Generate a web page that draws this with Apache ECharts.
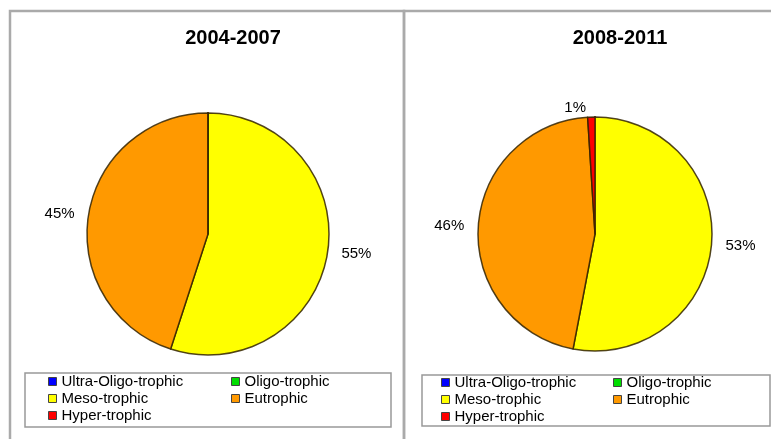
<!DOCTYPE html>
<html>
<head>
<meta charset="utf-8">
<script src="https://cdn.jsdelivr.net/npm/echarts@6/dist/echarts.min.js"></script>
<style>
html,body{margin:0;padding:0;background:#fff;}
#chart{width:771px;height:439px;}
</style>
</head>
<body>
<div id="chart"></div>
<script>
// Data
const categories = ['Ultra-Oligo-trophic', 'Oligo-trophic', 'Meso-trophic', 'Eutrophic', 'Hyper-trophic'];
const titles = ['2004-2007', '2008-2011'];
const values2004_2007 = [0, 0, 55, 45, 0];
const values2008_2011 = [0, 0, 53, 46, 1];
const colors = ['#0000ff', '#00dd00', '#ffff00', '#ff9900', '#ff0000'];

const legendCol1 = [categories[0], categories[2], categories[4]];
const legendCol2 = [categories[1], categories[3]];

function buildData(vals) {
  return categories.map((c, i) => ({
    name: c,
    value: vals[i],
    label: { show: vals[i] > 0 }
  }));
}

const chart = echarts.init(document.getElementById('chart'));

const legendText = { fontFamily: 'Liberation Sans, Arial, sans-serif', fontSize: 15, color: '#000', lineHeight: 15 };
function legend(left, top, data) {
  return {
    orient: 'vertical', left: left, top: top, padding: 0,
    itemWidth: 8, itemHeight: 8, itemGap: 2,
    icon: 'rect', selectedMode: false,
    itemStyle: { borderColor: '#444', borderWidth: 1 },
    textStyle: legendText,
    data: data
  };
}

function pieSeries(vals, center, radius) {
  return {
    type: 'pie',
    center: center,
    radius: radius,
    startAngle: 90,
    clockwise: true,
    avoidLabelOverlap: false,
    animation: false,
    itemStyle: { borderColor: 'rgba(50,35,0,0.85)', borderWidth: 1.5 },
    label: {
      position: 'outside',
      formatter: p => p.value + '%',
      fontFamily: 'Liberation Sans, Arial, sans-serif',
      fontSize: 15,
      color: '#000'
    },
    labelLine: { show: false, length: 9, length2: 0 },
    emphasis: { disabled: true },
    data: buildData(vals)
  };
}

const option = {
  color: colors,
  animation: false,
  title: [
    { text: titles[0], left: 233, top: 28, padding: 0, textAlign: 'center',
      textStyle: { fontFamily: 'Liberation Sans, Arial, sans-serif', fontSize: 20, fontWeight: 'bold', color: '#000' } },
    { text: titles[1], left: 620, top: 28, padding: 0, textAlign: 'center',
      textStyle: { fontFamily: 'Liberation Sans, Arial, sans-serif', fontSize: 20, fontWeight: 'bold', color: '#000' } }
  ],
  legend: [
    legend(48, 374, legendCol1),
    legend(231, 374, legendCol2),
    legend(441, 375, legendCol1),
    legend(613, 375, legendCol2)
  ],
  graphic: [
    { type: 'rect', shape: { x: 10, y: 11, width: 394, height: 440 }, style: { fill: 'none', stroke: '#aaaaaa', lineWidth: 2.5 }, z: -10 },
    { type: 'rect', shape: { x: 404, y: 11, width: 380, height: 440 }, style: { fill: 'none', stroke: '#aaaaaa', lineWidth: 2.5 }, z: -10 },
    { type: 'rect', shape: { x: 25, y: 373, width: 366, height: 54 }, style: { fill: '#fff', stroke: '#999999', lineWidth: 1.5 }, z: -5 },
    { type: 'rect', shape: { x: 422, y: 375, width: 348, height: 51 }, style: { fill: '#fff', stroke: '#999999', lineWidth: 1.5 }, z: -5 }
  ],
  series: [
    pieSeries(values2004_2007, [208, 234], 121),
    pieSeries(values2008_2011, [595, 234], 117)
  ]
};
chart.setOption(option);
</script>
</body>
</html>
